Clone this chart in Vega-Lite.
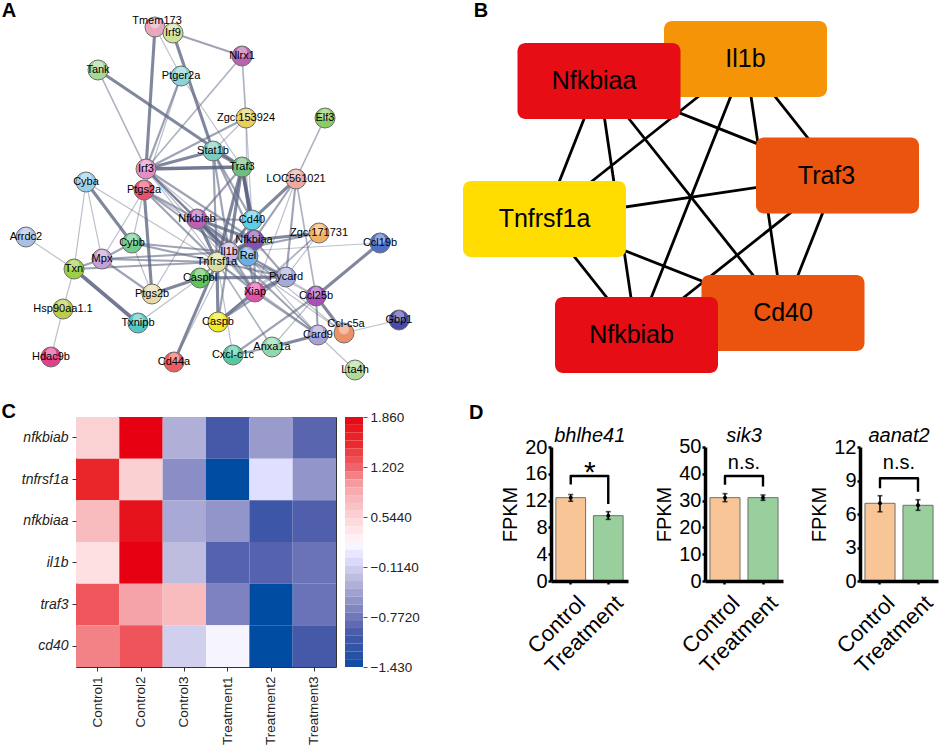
{"$schema":"https://vega.github.io/schema/vega-lite/v6.json","background":"white","padding":{"left":0,"top":0,"right":0,"bottom":30},"autosize":{"type":"pad"},
"config":{"view":{"stroke":null},"font":"Liberation Sans","axis":{"grid":false,"labelOverlap":false,"labelFont":"Liberation Sans","titleFont":"Liberation Sans"}},
"datasets":{
"nodes":[{"name":"Tmem173","x":155,"y":27},{"name":"Irf9","x":173,"y":33},{"name":"Nlrx1","x":242,"y":56},{"name":"Tank","x":98,"y":70},{"name":"Ptger2a","x":181,"y":76},{"name":"Zgc:153924","x":246,"y":118},{"name":"Elf3","x":325,"y":118},{"name":"Stat1b","x":213,"y":151},{"name":"Traf3","x":242,"y":167},{"name":"Irf3","x":146,"y":169},{"name":"LOC561021","x":296,"y":179},{"name":"Cyba","x":86,"y":182},{"name":"Ptgs2a","x":144,"y":190},{"name":"Nfkbiab","x":197,"y":219},{"name":"Cd40","x":252,"y":220},{"name":"Zgc:171731","x":319,"y":233},{"name":"Ccl19b","x":380,"y":243},{"name":"Arrdc2","x":26,"y":237},{"name":"Cybb","x":132,"y":243},{"name":"Il1b","x":229,"y":252},{"name":"Rel","x":248,"y":256},{"name":"Nfkbiaa","x":254,"y":240},{"name":"Mpx","x":102,"y":259},{"name":"Txn","x":74,"y":269},{"name":"Tnfrsf1a","x":217,"y":262},{"name":"Caspbl","x":200,"y":278},{"name":"Pycard","x":286,"y":277},{"name":"Ptgs2b","x":152,"y":294},{"name":"Xiap","x":255,"y":292},{"name":"Ccl25b","x":316,"y":296},{"name":"Hsp90aa1.1","x":63,"y":309},{"name":"Txnipb","x":138,"y":323},{"name":"Caspb","x":218,"y":322},{"name":"Gbp1","x":399,"y":320},{"name":"Ccl-c5a","x":344,"y":333},{"name":"Card9","x":318,"y":335},{"name":"Anxa1a","x":272,"y":347},{"name":"Cxcl-c1c","x":233,"y":355},{"name":"Hdac9b","x":51,"y":357},{"name":"Cd44a","x":174,"y":362},{"name":"Lta4h","x":355,"y":370}],
"edges":[{"a":"Tmem173","b":"Irf3","s":3},{"a":"Tmem173","b":"Ptger2a","s":1},{"a":"Irf9","b":"Stat1b","s":3},{"a":"Irf9","b":"Nlrx1","s":2},{"a":"Nlrx1","b":"Zgc:153924","s":1.5},{"a":"Nlrx1","b":"Irf3","s":1.5},{"a":"Tank","b":"Irf3","s":1.5},{"a":"Tank","b":"Traf3","s":3},{"a":"Ptger2a","b":"Irf3","s":2},{"a":"Ptger2a","b":"Ptgs2a","s":1},{"a":"Ptger2a","b":"Traf3","s":1},{"a":"Zgc:153924","b":"Irf3","s":2},{"a":"Zgc:153924","b":"Stat1b","s":1},{"a":"Zgc:153924","b":"Cd40","s":1},{"a":"Zgc:153924","b":"Rel","s":1},{"a":"Elf3","b":"LOC561021","s":1.5},{"a":"Stat1b","b":"Irf3","s":3},{"a":"Stat1b","b":"Traf3","s":3},{"a":"Irf3","b":"Traf3","s":3.5},{"a":"Irf3","b":"Nfkbiab","s":2},{"a":"Irf3","b":"Il1b","s":2},{"a":"Irf3","b":"Nfkbiaa","s":2},{"a":"Irf3","b":"Tnfrsf1a","s":1},{"a":"Irf3","b":"Rel","s":1},{"a":"Irf3","b":"Xiap","s":1},{"a":"Stat1b","b":"Il1b","s":2},{"a":"Stat1b","b":"Nfkbiaa","s":2},{"a":"Stat1b","b":"Tnfrsf1a","s":2},{"a":"Stat1b","b":"Cd40","s":2},{"a":"Traf3","b":"Cd40","s":3.5},{"a":"Traf3","b":"Nfkbiaa","s":3},{"a":"Traf3","b":"Il1b","s":3},{"a":"Traf3","b":"Tnfrsf1a","s":3},{"a":"Traf3","b":"Nfkbiab","s":2},{"a":"LOC561021","b":"Cd40","s":3},{"a":"LOC561021","b":"Nfkbiaa","s":2},{"a":"LOC561021","b":"Pycard","s":2},{"a":"LOC561021","b":"Ccl25b","s":1.5},{"a":"LOC561021","b":"Xiap","s":1},{"a":"Cyba","b":"Cybb","s":3},{"a":"Cyba","b":"Txn","s":1},{"a":"Cyba","b":"Mpx","s":1},{"a":"Cyba","b":"Tnfrsf1a","s":1},{"a":"Ptgs2a","b":"Ptgs2b","s":3},{"a":"Ptgs2a","b":"Nfkbiab","s":2},{"a":"Ptgs2a","b":"Il1b","s":2},{"a":"Ptgs2a","b":"Tnfrsf1a","s":2},{"a":"Ptgs2a","b":"Mpx","s":1},{"a":"Ptgs2a","b":"Cybb","s":1},{"a":"Ptgs2a","b":"Rel","s":1},{"a":"Nfkbiab","b":"Cd40","s":2},{"a":"Nfkbiab","b":"Nfkbiaa","s":3},{"a":"Nfkbiab","b":"Il1b","s":3},{"a":"Nfkbiab","b":"Rel","s":3},{"a":"Nfkbiab","b":"Tnfrsf1a","s":3},{"a":"Nfkbiab","b":"Ptgs2b","s":1},{"a":"Nfkbiab","b":"Xiap","s":2},{"a":"Nfkbiab","b":"Card9","s":1.5},{"a":"Cd40","b":"Nfkbiaa","s":2},{"a":"Cd40","b":"Il1b","s":2},{"a":"Cd40","b":"Rel","s":2},{"a":"Cd40","b":"Tnfrsf1a","s":2},{"a":"Nfkbiaa","b":"Zgc:171731","s":3},{"a":"Nfkbiaa","b":"Il1b","s":3},{"a":"Nfkbiaa","b":"Rel","s":3},{"a":"Nfkbiaa","b":"Tnfrsf1a","s":3},{"a":"Nfkbiaa","b":"Xiap","s":2},{"a":"Nfkbiaa","b":"Pycard","s":2},{"a":"Zgc:171731","b":"Il1b","s":2},{"a":"Zgc:171731","b":"Pycard","s":1},{"a":"Zgc:171731","b":"Xiap","s":1},{"a":"Zgc:171731","b":"Caspb","s":1},{"a":"Ccl19b","b":"Il1b","s":1},{"a":"Ccl19b","b":"Ccl25b","s":3},{"a":"Arrdc2","b":"Txn","s":1},{"a":"Mpx","b":"Cybb","s":2},{"a":"Mpx","b":"Txn","s":2},{"a":"Mpx","b":"Il1b","s":2},{"a":"Mpx","b":"Tnfrsf1a","s":2},{"a":"Mpx","b":"Ptgs2b","s":2},{"a":"Txn","b":"Tnfrsf1a","s":2},{"a":"Txn","b":"Txnipb","s":3.5},{"a":"Txn","b":"Hsp90aa1.1","s":1},{"a":"Hsp90aa1.1","b":"Hdac9b","s":1},{"a":"Cybb","b":"Il1b","s":2},{"a":"Cybb","b":"Ptgs2b","s":1},{"a":"Cybb","b":"Tnfrsf1a","s":2},{"a":"Ptgs2b","b":"Caspbl","s":3},{"a":"Txnipb","b":"Caspbl","s":1},{"a":"Caspbl","b":"Il1b","s":2},{"a":"Caspbl","b":"Pycard","s":3},{"a":"Xiap","b":"Caspb","s":3},{"a":"Caspb","b":"Tnfrsf1a","s":3},{"a":"Caspb","b":"Il1b","s":2},{"a":"Caspb","b":"Pycard","s":2},{"a":"Cd44a","b":"Tnfrsf1a","s":3},{"a":"Cd44a","b":"Il1b","s":1},{"a":"Cxcl-c1c","b":"Tnfrsf1a","s":1},{"a":"Cxcl-c1c","b":"Ccl25b","s":2},{"a":"Cxcl-c1c","b":"Anxa1a","s":2},{"a":"Anxa1a","b":"Card9","s":3},{"a":"Anxa1a","b":"Tnfrsf1a","s":1.5},{"a":"Anxa1a","b":"Ccl25b","s":1},{"a":"Card9","b":"Lta4h","s":1},{"a":"Card9","b":"Ccl25b","s":2},{"a":"Card9","b":"Xiap","s":2},{"a":"Card9","b":"Tnfrsf1a","s":1},{"a":"Card9","b":"Il1b","s":1},{"a":"Card9","b":"Rel","s":1},{"a":"Ccl-c5a","b":"Ccl25b","s":3},{"a":"Ccl-c5a","b":"Gbp1","s":1},{"a":"Ccl-c5a","b":"Il1b","s":1},{"a":"Ccl-c5a","b":"Rel","s":1},{"a":"Ccl25b","b":"Il1b","s":1},{"a":"Ccl25b","b":"Rel","s":1},{"a":"Pycard","b":"Il1b","s":2},{"a":"Pycard","b":"Xiap","s":3},{"a":"Pycard","b":"Rel","s":2},{"a":"Pycard","b":"Tnfrsf1a","s":2},{"a":"Xiap","b":"Il1b","s":2},{"a":"Xiap","b":"Rel","s":2},{"a":"Xiap","b":"Tnfrsf1a","s":2},{"a":"Rel","b":"Il1b","s":3},{"a":"Rel","b":"Tnfrsf1a","s":3},{"a":"Il1b","b":"Tnfrsf1a","s":3}],
"hub":[{"name":"Il1b","x":745.5,"y":59},{"name":"Nfkbiaa","x":599,"y":81},{"name":"Traf3","x":837.5,"y":175.5},{"name":"Tnfrsf1a","x":544.5,"y":219},{"name":"Cd40","x":783,"y":313},{"name":"Nfkbiab","x":636.5,"y":335}],
"hubEdges":[{"a":"Il1b","b":"Nfkbiaa"},{"a":"Il1b","b":"Traf3"},{"a":"Il1b","b":"Tnfrsf1a"},{"a":"Il1b","b":"Cd40"},{"a":"Il1b","b":"Nfkbiab"},{"a":"Nfkbiaa","b":"Traf3"},{"a":"Nfkbiaa","b":"Tnfrsf1a"},{"a":"Nfkbiaa","b":"Cd40"},{"a":"Nfkbiaa","b":"Nfkbiab"},{"a":"Traf3","b":"Tnfrsf1a"},{"a":"Traf3","b":"Cd40"},{"a":"Traf3","b":"Nfkbiab"},{"a":"Tnfrsf1a","b":"Cd40"},{"a":"Tnfrsf1a","b":"Nfkbiab"},{"a":"Cd40","b":"Nfkbiab"}],
"heat":[{"gene":"nfkbiab","sample":"Control1","v":0.55},{"gene":"nfkbiab","sample":"Control2","v":1.86},{"gene":"nfkbiab","sample":"Control3","v":-0.35},{"gene":"nfkbiab","sample":"Treatment1","v":-1.0},{"gene":"nfkbiab","sample":"Treatment2","v":-0.5},{"gene":"nfkbiab","sample":"Treatment3","v":-0.9},{"gene":"tnfrsf1a","sample":"Control1","v":1.55},{"gene":"tnfrsf1a","sample":"Control2","v":0.57},{"gene":"tnfrsf1a","sample":"Control3","v":-0.6},{"gene":"tnfrsf1a","sample":"Treatment1","v":-1.43},{"gene":"tnfrsf1a","sample":"Treatment2","v":0.0},{"gene":"tnfrsf1a","sample":"Treatment3","v":-0.55},{"gene":"nfkbiaa","sample":"Control1","v":0.75},{"gene":"nfkbiaa","sample":"Control2","v":1.75},{"gene":"nfkbiaa","sample":"Control3","v":-0.4},{"gene":"nfkbiaa","sample":"Treatment1","v":-0.55},{"gene":"nfkbiaa","sample":"Treatment2","v":-1.08},{"gene":"nfkbiaa","sample":"Treatment3","v":-0.95},{"gene":"il1b","sample":"Control1","v":0.42},{"gene":"il1b","sample":"Control2","v":1.86},{"gene":"il1b","sample":"Control3","v":-0.25},{"gene":"il1b","sample":"Treatment1","v":-0.92},{"gene":"il1b","sample":"Treatment2","v":-0.92},{"gene":"il1b","sample":"Treatment3","v":-0.8},{"gene":"traf3","sample":"Control1","v":1.27},{"gene":"traf3","sample":"Control2","v":0.95},{"gene":"traf3","sample":"Control3","v":0.75},{"gene":"traf3","sample":"Treatment1","v":-0.68},{"gene":"traf3","sample":"Treatment2","v":-1.43},{"gene":"traf3","sample":"Treatment3","v":-0.8},{"gene":"cd40","sample":"Control1","v":1.08},{"gene":"cd40","sample":"Control2","v":1.28},{"gene":"cd40","sample":"Control3","v":-0.12},{"gene":"cd40","sample":"Treatment1","v":0.15},{"gene":"cd40","sample":"Treatment2","v":-1.43},{"gene":"cd40","sample":"Treatment3","v":-1.0}],
"steps":[{"lo":1.757,"hi":1.86},{"lo":1.654,"hi":1.757},{"lo":1.552,"hi":1.654},{"lo":1.449,"hi":1.552},{"lo":1.346,"hi":1.449},{"lo":1.243,"hi":1.346},{"lo":1.14,"hi":1.243},{"lo":1.038,"hi":1.14},{"lo":0.935,"hi":1.038},{"lo":0.832,"hi":0.935},{"lo":0.729,"hi":0.832},{"lo":0.626,"hi":0.729},{"lo":0.523,"hi":0.626},{"lo":0.421,"hi":0.523},{"lo":0.318,"hi":0.421},{"lo":0.215,"hi":0.318},{"lo":0.112,"hi":0.215},{"lo":0.009,"hi":0.112},{"lo":-0.094,"hi":0.009},{"lo":-0.196,"hi":-0.094},{"lo":-0.299,"hi":-0.196},{"lo":-0.402,"hi":-0.299},{"lo":-0.505,"hi":-0.402},{"lo":-0.608,"hi":-0.505},{"lo":-0.711,"hi":-0.608},{"lo":-0.813,"hi":-0.711},{"lo":-0.916,"hi":-0.813},{"lo":-1.019,"hi":-0.916},{"lo":-1.122,"hi":-1.019},{"lo":-1.225,"hi":-1.122},{"lo":-1.327,"hi":-1.225},{"lo":-1.43,"hi":-1.327}],
"fpkm":[{"gene":"bhlhe41","group":"Control","v":12.44,"lo":11.9,"hi":12.9},{"gene":"bhlhe41","group":"Treatment","v":9.75,"lo":9.2,"hi":10.35},{"gene":"sik3","group":"Control","v":31.1,"lo":29.6,"hi":32.6},{"gene":"sik3","group":"Treatment","v":31.1,"lo":30.1,"hi":32.1},{"gene":"aanat2","group":"Control","v":6.96,"lo":6.2,"hi":7.64},{"gene":"aanat2","group":"Treatment","v":6.78,"lo":6.33,"hi":7.28}],
"brackets":[{"gene":"bhlhe41","o":1,"group":"Control","y":14.4},{"gene":"bhlhe41","o":2,"group":"Control","y":15.67},{"gene":"bhlhe41","o":3,"group":"Treatment","y":15.67},{"gene":"bhlhe41","o":4,"group":"Treatment","y":11.5},{"gene":"sik3","o":1,"group":"Control","y":35.9},{"gene":"sik3","o":2,"group":"Control","y":39.2},{"gene":"sik3","o":3,"group":"Treatment","y":39.2},{"gene":"sik3","o":4,"group":"Treatment","y":35.3},{"gene":"aanat2","o":1,"group":"Control","y":8.3},{"gene":"aanat2","o":2,"group":"Control","y":9.2},{"gene":"aanat2","o":3,"group":"Treatment","y":9.2},{"gene":"aanat2","o":4,"group":"Treatment","y":8.0}]
},
"vconcat":[
{"spacing":0,"hconcat":[
{"width":374,"height":390,"layer":[
{"data":{"name":"edges"},"transform":[{"lookup":"a","from":{"data":{"name":"nodes"},"key":"name","fields":["x","y"]},"as":["xa","ya"]},{"lookup":"b","from":{"data":{"name":"nodes"},"key":"name","fields":["x","y"]},"as":["xb","yb"]}],"mark":{"type":"rule","color":"#5a6280"},"encoding":{"x":{"field":"xa","type":"quantitative","scale":{"domain":[76,450],"nice":false,"zero":false},"axis":null},"y":{"field":"ya","type":"quantitative","scale":{"domain":[390,0],"nice":false},"axis":null},"x2":{"field":"xb"},"y2":{"field":"yb"},"strokeWidth":{"field":"s","type":"quantitative","scale":{"domain":[1,3.5],"range":[1.2,3.6]},"legend":null},"opacity":{"field":"s","type":"quantitative","scale":{"domain":[1,3.5],"range":[0.4,0.85]},"legend":null}}},
{"data":{"name":"nodes"},"mark":{"type":"point","filled":true,"size":400,"opacity":1,"stroke":"#6d6d6d","strokeWidth":1},"encoding":{"x":{"field":"x","type":"quantitative"},"y":{"field":"y","type":"quantitative"},"fill":{"field":"name","type":"nominal","legend":null,"scale":{"domain":["Tmem173","Irf9","Nlrx1","Tank","Ptger2a","Zgc:153924","Elf3","Stat1b","Traf3","Irf3","LOC561021","Cyba","Ptgs2a","Nfkbiab","Cd40","Nfkbiaa","Zgc:171731","Ccl19b","Arrdc2","Cybb","Il1b","Rel","Mpx","Txn","Tnfrsf1a","Caspbl","Pycard","Ptgs2b","Xiap","Ccl25b","Hsp90aa1.1","Txnipb","Caspb","Gbp1","Ccl-c5a","Card9","Anxa1a","Cxcl-c1c","Hdac9b","Cd44a","Lta4h"],"range":["#e8a7bd","#cfe29c","#b863ad","#a5d89b","#8fd3d8","#e8cf5c","#8ccc63","#7bcdc0","#6dbf7f","#e28fc4","#f0a9a0","#9bcfe8","#e8506e","#bd5fb5","#5ecde8","#7d55b0","#f2b266","#4f6fc8","#a9bfe6","#72cc8a","#cdb3e0","#6eaee6","#c79fd8","#9ccf45","#dcdca0","#5fc25a","#a6abdc","#e8d8a8","#e050a8","#a84fb8","#bccb48","#4fc8c8","#f0ec20","#4a4aa8","#ec9068","#a9a0d8","#90d8b0","#58c8a0","#e0408c","#ee5c60","#b0dc98"]}}}},
{"data":{"name":"nodes"},"mark":{"type":"point","filled":true,"size":110,"color":"white","opacity":0.4,"yOffset":-4,"strokeWidth":0},"encoding":{"x":{"field":"x","type":"quantitative"},"y":{"field":"y","type":"quantitative"}}},
{"data":{"name":"nodes"},"transform":[{"filter":"datum.name!='Tmem173' && datum.name!='Ccl-c5a'"}],"mark":{"type":"text","fontSize":11,"color":"black"},"encoding":{"x":{"field":"x","type":"quantitative"},"y":{"field":"y","type":"quantitative"},"text":{"field":"name"}}},
{"data":{"name":"nodes"},"transform":[{"filter":"datum.name=='Tmem173'"}],"mark":{"type":"text","fontSize":11,"color":"black","dy":-6,"dx":2},"encoding":{"x":{"field":"x","type":"quantitative"},"y":{"field":"y","type":"quantitative"},"text":{"field":"name"}}},
{"data":{"name":"nodes"},"transform":[{"filter":"datum.name=='Ccl-c5a'"}],"mark":{"type":"text","fontSize":11,"color":"black","dy":-9,"dx":2},"encoding":{"x":{"field":"x","type":"quantitative"},"y":{"field":"y","type":"quantitative"},"text":{"field":"name"}}},
{"data":{"values":[{"t":"A","x":9,"y":11}]},"mark":{"type":"text","fontSize":20,"fontWeight":"bold","color":"black"},"encoding":{"x":{"field":"x","type":"quantitative"},"y":{"field":"y","type":"quantitative"},"text":{"field":"t"}}}
]},
{"width":491,"height":390,"layer":[
{"data":{"name":"hubEdges"},"transform":[{"lookup":"a","from":{"data":{"name":"hub"},"key":"name","fields":["x","y"]},"as":["xa","ya"]},{"lookup":"b","from":{"data":{"name":"hub"},"key":"name","fields":["x","y"]},"as":["xb","yb"]}],"mark":{"type":"rule","color":"black","strokeWidth":2.8},"encoding":{"x":{"field":"xa","type":"quantitative","scale":{"domain":[450,941],"nice":false,"zero":false},"axis":null},"y":{"field":"ya","type":"quantitative","scale":{"domain":[390,0],"nice":false},"axis":null},"x2":{"field":"xb"},"y2":{"field":"yb"}}},
{"data":{"name":"hub"},"mark":{"type":"rect","width":163,"height":76,"cornerRadius":8,"opacity":1},"encoding":{"x":{"field":"x","type":"quantitative"},"y":{"field":"y","type":"quantitative"},"color":{"field":"name","type":"nominal","legend":null,"scale":{"domain":["Il1b","Nfkbiaa","Traf3","Tnfrsf1a","Cd40","Nfkbiab"],"range":["#f59407","#e60d15","#ea540f","#ffdd00","#ea540f","#e60d15"]}}}},
{"data":{"name":"hub"},"transform":[{"filter":"datum.name=='Il1b'||datum.name=='Tnfrsf1a'||datum.name=='Cd40'"}],"mark":{"type":"text","fontSize":25,"color":"black"},"encoding":{"x":{"field":"x","type":"quantitative"},"y":{"field":"y","type":"quantitative"},"text":{"field":"name"}}},
{"data":{"name":"hub"},"transform":[{"filter":"datum.name=='Nfkbiaa'||datum.name=='Nfkbiab'"}],"mark":{"type":"text","fontSize":25,"color":"black","dx":-5},"encoding":{"x":{"field":"x","type":"quantitative"},"y":{"field":"y","type":"quantitative"},"text":{"field":"name"}}},
{"data":{"name":"hub"},"transform":[{"filter":"datum.name=='Traf3'"}],"mark":{"type":"text","fontSize":25,"color":"black","dx":-11},"encoding":{"x":{"field":"x","type":"quantitative"},"y":{"field":"y","type":"quantitative"},"text":{"field":"name"}}},
{"data":{"values":[{"t":"B","x":481,"y":11}]},"mark":{"type":"text","fontSize":20,"fontWeight":"bold","color":"black"},"encoding":{"x":{"field":"x","type":"quantitative"},"y":{"field":"y","type":"quantitative"},"text":{"field":"t"}}}
]}
]},
{"spacing":49,"hconcat":[
{"spacing":8,"hconcat":[
{"width":260,"height":250,"view":{"stroke":"#333","strokeWidth":1},"layer":[
{"data":{"name":"heat"},"mark":{"type":"rect"},"encoding":{"x":{"field":"sample","type":"nominal","title":null,"sort":null,"scale":{"paddingInner":0,"paddingOuter":0},"axis":{"labelAngle":-90,"labelFontSize":13.5,"labelColor":"#222","tickColor":"#333","tickSize":4,"domain":false,"labelPadding":5}},"y":{"field":"gene","type":"nominal","title":null,"sort":null,"scale":{"paddingInner":0,"paddingOuter":0},"axis":{"labelFontSize":14,"labelFontStyle":"italic","labelColor":"#222","tickColor":"#333","tickSize":4,"domain":false,"labelPadding":4}},"color":{"field":"v","type":"quantitative","legend":null,"scale":{"domain":[-1.43,-1.0,-0.6,-0.2,0.215,0.544,0.95,1.202,1.5,1.86],"range":["#004ca3","#4659a8","#8b8ec6","#c5c4e3","#ffffff","#fad3d5","#f5a3a8","#ee6167","#ea2a2e","#e60012"]}}}},
{"data":{"values":[{"t":"C","sample":"Control1","gene":"nfkbiab"}]},"mark":{"type":"text","fontSize":20,"fontWeight":"bold","color":"black","dx":-89,"dy":-26},"encoding":{"x":{"field":"sample","type":"nominal","sort":null},"y":{"field":"gene","type":"nominal","sort":null},"text":{"field":"t"}}}
]},
{"width":18,"height":250,"data":{"name":"steps"},"transform":[{"calculate":"(datum.lo+datum.hi)/2","as":"mid"}],"mark":{"type":"rect"},"encoding":{"y":{"field":"lo","type":"quantitative","title":null,"scale":{"domain":[-1.43,1.86],"nice":false,"zero":false},"axis":{"orient":"right","tickCount":10,"values":[1.86,1.202,0.544,-0.114,-0.772,-1.43],"labelExpr":"datum.value==1.86?'1.860':datum.value==1.202?'1.202':datum.value==0.544?'0.5440':datum.value==-0.114?'−0.1140':datum.value==-0.772?'−0.7720':'−1.430'","labelFontSize":13.5,"labelColor":"#222","tickColor":"#555","tickSize":4,"domain":false,"labelPadding":3}},"y2":{"field":"hi"},"color":{"field":"mid","type":"quantitative","legend":null,"scale":{"domain":[-1.43,-1.0,-0.6,-0.2,0.215,0.544,0.95,1.202,1.5,1.86],"range":["#004ca3","#4659a8","#8b8ec6","#c5c4e3","#ffffff","#fad3d5","#f5a3a8","#ee6167","#ea2a2e","#e60012"]}}}}
]},
{"spacing":26,"hconcat":[
{"width":77,"height":164,"encoding":{"x":{"field":"group","type":"nominal","title":null,"scale":{"domain":["Control","Treatment"],"paddingInner":0.208,"paddingOuter":0.13},"axis":{"labelAngle":-45,"labelAlign":"right","labelFontSize":22,"labelColor":"black","labelPadding":8,"labelOffset":4,"domainWidth":3.5,"domainColor":"black","tickColor":"black","tickWidth":2.5,"tickSize":3,"zindex":1}}},
"layer":[
{"data":{"name":"fpkm"},"transform":[{"filter":"datum.gene=='bhlhe41'"}],"mark":{"type":"bar","stroke":"#6f6f6f","strokeWidth":1},"encoding":{"y":{"field":"v","type":"quantitative","title":"FPKM","scale":{"domain":[0,24.478],"nice":false},"axis":{"tickCount":10,"values":[0,4,8,12,16,20],"labelFontSize":20,"labelColor":"black","labelPadding":1,"titleFontSize":20,"titleFontWeight":"normal","titlePadding":4,"titleY":97,"domainWidth":3.5,"domainDash":[134,60],"domainColor":"black","tickColor":"black","tickWidth":2.5,"tickSize":3,"zindex":1}},"color":{"field":"group","type":"nominal","legend":null,"scale":{"domain":["Control","Treatment"],"range":["#f7c596","#98cf9c"]}}}},
{"data":{"name":"fpkm"},"transform":[{"filter":"datum.gene=='bhlhe41'"}],"mark":{"type":"rule","color":"black","strokeWidth":1.6},"encoding":{"y":{"field":"lo","type":"quantitative"},"y2":{"field":"hi"}}},
{"data":{"name":"fpkm"},"transform":[{"filter":"datum.gene=='bhlhe41'"}],"mark":{"type":"tick","color":"black","size":5,"thickness":1.6},"encoding":{"y":{"field":"lo","type":"quantitative"}}},
{"data":{"name":"fpkm"},"transform":[{"filter":"datum.gene=='bhlhe41'"}],"mark":{"type":"tick","color":"black","size":5,"thickness":1.6},"encoding":{"y":{"field":"hi","type":"quantitative"}}},
{"data":{"name":"fpkm"},"transform":[{"filter":"datum.gene=='bhlhe41'"}],"mark":{"type":"point","filled":true,"color":"black","size":16,"opacity":1},"encoding":{"y":{"field":"v","type":"quantitative"}}},
{"data":{"name":"brackets"},"transform":[{"filter":"datum.gene=='bhlhe41'"}],"mark":{"type":"line","color":"black","strokeWidth":2.4,"strokeJoin":"round"},"encoding":{"y":{"field":"y","type":"quantitative"},"order":{"field":"o"}}},
{"data":{"values":[{"group":"Control","y":16.0,"t":"*"}]},"mark":{"type":"text","fontSize":30,"color":"black","dx":19,"baseline":"middle","dy":-1},"encoding":{"y":{"field":"y","type":"quantitative"},"text":{"field":"t"}}},
{"data":{"values":[{"group":"Control","y":21.6,"t":"bhlhe41"}]},"mark":{"type":"text","fontSize":20,"fontStyle":"italic","color":"black","dx":19},"encoding":{"y":{"field":"y","type":"quantitative"},"text":{"field":"t"}}},
{"data":{"values":[{"group":"Control","y":25.05,"t":"D"}]},"mark":{"type":"text","fontSize":20,"fontWeight":"bold","color":"black","dx":-94.5},"encoding":{"y":{"field":"y","type":"quantitative"},"text":{"field":"t"}}}
]},
{"width":78,"height":164,"encoding":{"x":{"field":"group","type":"nominal","title":null,"scale":{"domain":["Control","Treatment"],"paddingInner":0.208,"paddingOuter":0.13},"axis":{"labelAngle":-45,"labelAlign":"right","labelFontSize":22,"labelColor":"black","labelPadding":8,"labelOffset":4,"domainWidth":3.5,"domainColor":"black","tickColor":"black","tickWidth":2.5,"tickSize":3,"zindex":1}}},
"layer":[
{"data":{"name":"fpkm"},"transform":[{"filter":"datum.gene=='sik3'"}],"mark":{"type":"bar","stroke":"#6f6f6f","strokeWidth":1},"encoding":{"y":{"field":"v","type":"quantitative","title":"FPKM","scale":{"domain":[0,61.19],"nice":false},"axis":{"tickCount":10,"values":[0,10,20,30,40,50],"labelFontSize":20,"labelColor":"black","labelPadding":1,"titleFontSize":20,"titleFontWeight":"normal","titlePadding":4,"titleY":97,"domainWidth":3.5,"domainDash":[134,60],"domainColor":"black","tickColor":"black","tickWidth":2.5,"tickSize":3,"zindex":1}},"color":{"field":"group","type":"nominal","legend":null,"scale":{"domain":["Control","Treatment"],"range":["#f7c596","#98cf9c"]}}}},
{"data":{"name":"fpkm"},"transform":[{"filter":"datum.gene=='sik3'"}],"mark":{"type":"rule","color":"black","strokeWidth":1.6},"encoding":{"y":{"field":"lo","type":"quantitative"},"y2":{"field":"hi"}}},
{"data":{"name":"fpkm"},"transform":[{"filter":"datum.gene=='sik3'"}],"mark":{"type":"tick","color":"black","size":5,"thickness":1.6},"encoding":{"y":{"field":"lo","type":"quantitative"}}},
{"data":{"name":"fpkm"},"transform":[{"filter":"datum.gene=='sik3'"}],"mark":{"type":"tick","color":"black","size":5,"thickness":1.6},"encoding":{"y":{"field":"hi","type":"quantitative"}}},
{"data":{"name":"fpkm"},"transform":[{"filter":"datum.gene=='sik3'"}],"mark":{"type":"point","filled":true,"color":"black","size":16,"opacity":1},"encoding":{"y":{"field":"v","type":"quantitative"}}},
{"data":{"name":"brackets"},"transform":[{"filter":"datum.gene=='sik3'"}],"mark":{"type":"line","color":"black","strokeWidth":2.4,"strokeJoin":"round"},"encoding":{"y":{"field":"y","type":"quantitative"},"order":{"field":"o"}}},
{"data":{"values":[{"group":"Control","y":44,"t":"n.s."}]},"mark":{"type":"text","fontSize":20,"color":"black","dx":19,"baseline":"middle"},"encoding":{"y":{"field":"y","type":"quantitative"},"text":{"field":"t"}}},
{"data":{"values":[{"group":"Control","y":54,"t":"sik3"}]},"mark":{"type":"text","fontSize":20,"fontStyle":"italic","color":"black","dx":19},"encoding":{"y":{"field":"y","type":"quantitative"},"text":{"field":"t"}}}
]},
{"width":78,"height":164,"encoding":{"x":{"field":"group","type":"nominal","title":null,"scale":{"domain":["Control","Treatment"],"paddingInner":0.208,"paddingOuter":0.13},"axis":{"labelAngle":-45,"labelAlign":"right","labelFontSize":22,"labelColor":"black","labelPadding":8,"labelOffset":4,"domainWidth":3.5,"domainColor":"black","tickColor":"black","tickWidth":2.5,"tickSize":3,"zindex":1}}},
"layer":[
{"data":{"name":"fpkm"},"transform":[{"filter":"datum.gene=='aanat2'"}],"mark":{"type":"bar","stroke":"#6f6f6f","strokeWidth":1},"encoding":{"y":{"field":"v","type":"quantitative","title":"FPKM","scale":{"domain":[0,14.687],"nice":false},"axis":{"tickCount":10,"values":[0,3,6,9,12],"labelFontSize":20,"labelColor":"black","labelPadding":1,"titleFontSize":20,"titleFontWeight":"normal","titlePadding":4,"titleY":97,"domainWidth":3.5,"domainDash":[134,60],"domainColor":"black","tickColor":"black","tickWidth":2.5,"tickSize":3,"zindex":1}},"color":{"field":"group","type":"nominal","legend":null,"scale":{"domain":["Control","Treatment"],"range":["#f7c596","#98cf9c"]}}}},
{"data":{"name":"fpkm"},"transform":[{"filter":"datum.gene=='aanat2'"}],"mark":{"type":"rule","color":"black","strokeWidth":1.6},"encoding":{"y":{"field":"lo","type":"quantitative"},"y2":{"field":"hi"}}},
{"data":{"name":"fpkm"},"transform":[{"filter":"datum.gene=='aanat2'"}],"mark":{"type":"tick","color":"black","size":5,"thickness":1.6},"encoding":{"y":{"field":"hi","type":"quantitative"}}},
{"data":{"name":"fpkm"},"transform":[{"filter":"datum.gene=='aanat2'"}],"mark":{"type":"tick","color":"black","size":5,"thickness":1.6},"encoding":{"y":{"field":"lo","type":"quantitative"}}},
{"data":{"name":"fpkm"},"transform":[{"filter":"datum.gene=='aanat2'"}],"mark":{"type":"point","filled":true,"color":"black","size":16,"opacity":1},"encoding":{"y":{"field":"v","type":"quantitative"}}},
{"data":{"name":"brackets"},"transform":[{"filter":"datum.gene=='aanat2'"}],"mark":{"type":"line","color":"black","strokeWidth":2.4,"strokeJoin":"round"},"encoding":{"y":{"field":"y","type":"quantitative"},"order":{"field":"o"}}},
{"data":{"values":[{"group":"Control","y":10.55,"t":"n.s."}]},"mark":{"type":"text","fontSize":20,"color":"black","dx":19,"baseline":"middle"},"encoding":{"y":{"field":"y","type":"quantitative"},"text":{"field":"t"}}},
{"data":{"values":[{"group":"Control","y":12.96,"t":"aanat2"}]},"mark":{"type":"text","fontSize":20,"fontStyle":"italic","color":"black","dx":19},"encoding":{"y":{"field":"y","type":"quantitative"},"text":{"field":"t"}}}
]}
]}
]}
],"spacing":11}
